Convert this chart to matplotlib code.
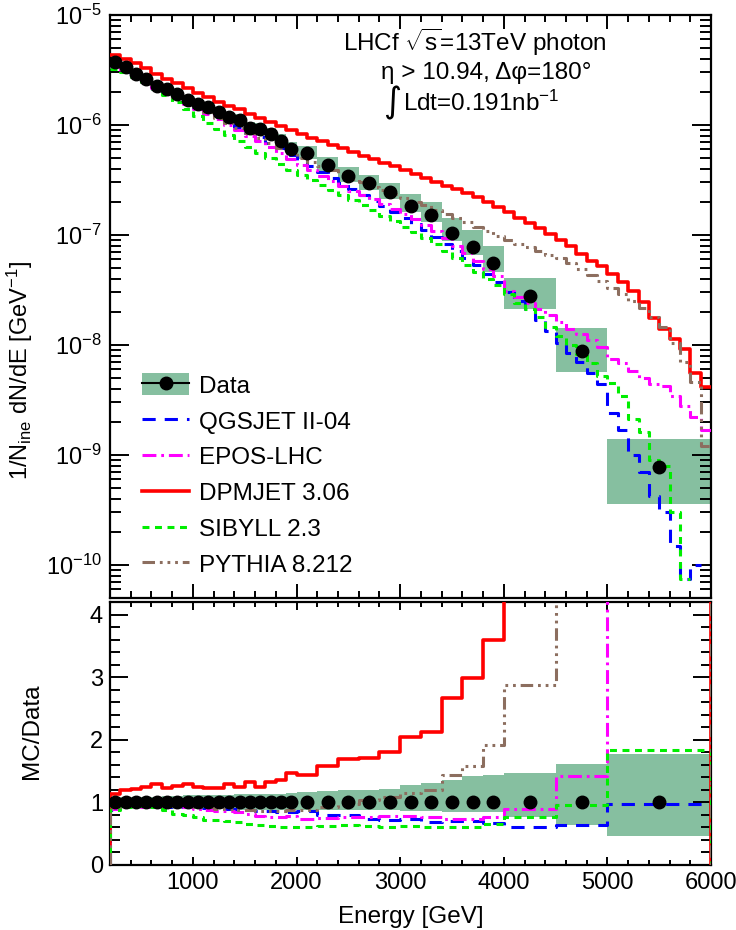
import numpy as np
import matplotlib
matplotlib.use("Agg")
import matplotlib.pyplot as plt
from matplotlib.ticker import MultipleLocator, LogLocator, NullFormatter
from matplotlib.patches import Patch
from matplotlib.lines import Line2D

plt.rcParams['font.family'] = ['Liberation Sans', 'DejaVu Sans']
plt.rcParams['mathtext.fontset'] = 'custom'
plt.rcParams['mathtext.rm'] = 'Liberation Sans'
plt.rcParams['mathtext.it'] = 'Liberation Sans:italic'
plt.rcParams['mathtext.bf'] = 'Liberation Sans:bold'
plt.rcParams['lines.scale_dashes'] = False

# data binning (GeV)
data_edges = [200, 300, 400, 500, 600, 700, 800, 900, 1000, 1100, 1200, 1300, 1400, 1500,
              1600, 1700, 1800, 1900, 2000, 2200, 2400, 2600, 2800, 3000, 3200, 3400,
              3600, 3800, 4000, 4500, 5000, 6000]
data_val = [3.75e-6, 3.37e-6, 2.89e-6, 2.64e-6, 2.25e-6, 2.14e-6, 1.89e-6, 1.68e-6, 1.56e-6,
            1.44e-6, 1.31e-6, 1.18e-6, 1.11e-6, 9.4e-7, 9.2e-7, 8.2e-7, 7.2e-7, 6.06e-7,
            5.52e-7, 4.36e-7, 3.46e-7, 2.94e-7, 2.43e-7, 1.84e-7, 1.51e-7, 1.04e-7, 7.8e-8,
            5.5e-8, 2.77e-8, 8.85e-9, 7.8e-10]
err_up = [0.08, 0.08, 0.08, 0.09, 0.09, 0.10, 0.10, 0.11, 0.11, 0.12, 0.12, 0.12, 0.13, 0.13,
          0.13, 0.14, 0.14, 0.15, 0.17, 0.18, 0.19, 0.20, 0.22, 0.275, 0.31, 0.355, 0.42, 0.43,
          0.47, 0.61, 0.77]
err_dn = [0.08, 0.08, 0.08, 0.09, 0.09, 0.10, 0.10, 0.10, 0.11, 0.11, 0.11, 0.12, 0.12, 0.12,
          0.12, 0.12, 0.12, 0.12, 0.12, 0.12, 0.12, 0.125, 0.125, 0.13, 0.14, 0.15, 0.16, 0.16,
          0.23, 0.36, 0.54]

# MC spectra, 100 GeV bins from 200 to 6000
mc_edges = np.arange(200, 6001, 100)
nan = np.nan
qgsjet = [3.35e-6, 3.05e-6, 2.78e-6, 2.50e-6, 2.22e-6, 2.00e-6, 1.78e-6, 1.58e-6, 1.43e-6, 1.30e-6,
          1.17e-6, 1.05e-6, 9.5e-7, 8.5e-7, 7.7e-7, 6.9e-7, 6.1e-7, 5.3e-7,
          4.8e-7, 4.2e-7, 3.75e-7, 3.3e-7, 2.95e-7, 2.6e-7, 2.3e-7, 2.05e-7, 1.82e-7, 1.62e-7,
          1.42e-7, 1.25e-7, 1.1e-7, 9.6e-8, 8.3e-8, 7.2e-8, 6.2e-8, 5.3e-8, 4.4e-8, 3.7e-8,
          3.0e-8, 2.5e-8, 2.1e-8, 1.7e-8, 1.35e-8, 1.05e-8, 8.5e-9, 7.0e-9, 5.5e-9, 4.4e-9,
          2.4e-9, 1.7e-9, 1.0e-9, 7.0e-10, 4.2e-10, 3.0e-10, 1.5e-10, 7.4e-11, 1.0e-10, nan]
epos = [3.38e-6, 3.10e-6, 2.75e-6, 2.47e-6, 2.18e-6, 1.97e-6, 1.76e-6, 1.56e-6, 1.40e-6, 1.25e-6,
        1.12e-6, 1.00e-6, 9.0e-7, 7.9e-7, 7.1e-7, 6.3e-7, 5.6e-7, 4.9e-7,
        4.3e-7, 3.85e-7, 3.45e-7, 3.1e-7, 2.8e-7, 2.52e-7, 2.3e-7, 2.1e-7, 1.9e-7, 1.72e-7,
        1.55e-7, 1.38e-7, 1.22e-7, 1.08e-7, 9.3e-8, 8.0e-8, 6.8e-8, 5.8e-8, 4.9e-8, 4.2e-8,
        3.1e-8, 2.7e-8, 2.4e-8, 2.1e-8, 1.85e-8, 1.6e-8, 1.4e-8, 1.25e-8, 1.1e-8, 9.5e-9,
        7.5e-9, 6.8e-9, 5.8e-9, 5.0e-9, 4.4e-9, 4.2e-9, 3.4e-9, 2.8e-9, 2.2e-9, 1.7e-9]
dpmjet = [4.28e-6, 4.00e-6, 3.62e-6, 3.28e-6, 2.93e-6, 2.64e-6, 2.39e-6, 2.17e-6, 1.96e-6, 1.78e-6,
          1.62e-6, 1.50e-6, 1.38e-6, 1.25e-6, 1.15e-6, 1.07e-6, 9.7e-7, 8.9e-7,
          8.2e-7, 7.6e-7, 7.1e-7, 6.6e-7, 6.1e-7, 5.65e-7, 5.2e-7, 4.85e-7, 4.5e-7, 4.2e-7,
          3.9e-7, 3.6e-7, 3.3e-7, 3.05e-7, 2.8e-7, 2.6e-7, 2.4e-7, 2.2e-7, 1.98e-7, 1.8e-7,
          1.6e-7, 1.42e-7, 1.28e-7, 1.15e-7, 1.02e-7, 9.05e-8, 7.98e-8, 6.7e-8, 5.8e-8, 5.25e-8,
          4.4e-8, 3.7e-8, 3.1e-8, 2.43e-8, 1.77e-8, 1.39e-8, 1.13e-8, 9.1e-9, 5.6e-9, 4.1e-9]
sibyll = [3.25e-6, 3.05e-6, 2.75e-6, 2.45e-6, 2.12e-6, 1.86e-6, 1.60e-6, 1.38e-6, 1.20e-6, 1.05e-6,
          9.2e-7, 8.1e-7, 7.2e-7, 6.3e-7, 5.6e-7, 5.0e-7, 4.4e-7, 3.9e-7,
          3.5e-7, 3.15e-7, 2.85e-7, 2.55e-7, 2.3e-7, 2.08e-7, 1.87e-7, 1.68e-7, 1.5e-7, 1.34e-7,
          1.19e-7, 1.06e-7, 9.4e-8, 8.3e-8, 7.2e-8, 6.2e-8, 5.3e-8, 4.6e-8, 4.0e-8, 3.5e-8,
          2.9e-8, 2.4e-8, 2.1e-8, 1.8e-8, 1.45e-8, 1.2e-8, 1.0e-8, 8.3e-9, 6.8e-9, 5.2e-9,
          4.5e-9, 3.4e-9, 2.1e-9, 1.6e-9, 9e-10, 8e-10, 3e-10, 7.4e-11, nan, nan]
pythia = [3.45e-6, 3.20e-6, 2.85e-6, 2.55e-6, 2.25e-6, 2.02e-6, 1.80e-6, 1.60e-6, 1.44e-6, 1.30e-6,
          1.16e-6, 1.04e-6, 9.4e-7, 8.4e-7, 7.6e-7, 6.8e-7, 6.1e-7, 5.5e-7,
          5.0e-7, 4.6e-7, 4.2e-7, 3.85e-7, 3.55e-7, 3.25e-7, 3.0e-7, 2.75e-7, 2.55e-7, 2.35e-7,
          2.18e-7, 2.0e-7, 1.85e-7, 1.7e-7, 1.56e-7, 1.42e-7, 1.3e-7, 1.18e-7, 1.08e-7, 9.8e-8,
          9.0e-8, 8.3e-8, 7.7e-8, 7.1e-8, 6.6e-8, 6.1e-8, 5.5e-8, 4.9e-8, 4.3e-8, 3.8e-8,
          3.3e-8, 2.9e-8, 2.5e-8, 2.15e-8, 1.8e-8, 1.45e-8, 1.05e-8, 7.0e-9, 4.6e-9, 1.2e-9]

# MC / data in data bins
r_qgsjet = [0.88, 0.95, 0.96, 0.95, 0.94, 0.93, 0.93, 0.92, 0.92, 0.91, 0.90, 0.90, 0.89, 0.88,
            0.87, 0.87, 0.85, 0.84, 0.86, 0.80, 0.80, 0.74, 0.72, 0.73, 0.69, 0.71, 0.70, 0.67,
            0.60, 0.64, 0.98]
r_epos = [0.90, 0.93, 0.94, 0.93, 0.93, 0.93, 0.93, 0.92, 0.90, 0.88, 0.87, 0.86, 0.84, 0.82,
          0.79, 0.77, 0.77, 0.79, 0.73, 0.75, 0.77, 0.76, 0.78, 0.78, 0.76, 0.74, 0.74, 0.76,
          0.90, 1.42, 5.2]
r_dpmjet = [1.14, 1.20, 1.22, 1.25, 1.29, 1.23, 1.26, 1.30, 1.25, 1.23, 1.23, 1.29, 1.25, 1.32,
            1.25, 1.33, 1.35, 1.47, 1.43, 1.58, 1.69, 1.71, 1.80, 2.05, 2.12, 2.66, 2.98, 3.59,
            5.0, 8.5, 24.0]
r_sibyll = [0.88, 0.93, 0.94, 0.94, 0.93, 0.88, 0.82, 0.80, 0.76, 0.72, 0.72, 0.70, 0.68, 0.66,
            0.64, 0.63, 0.61, 0.61, 0.61, 0.62, 0.64, 0.62, 0.61, 0.62, 0.60, 0.60, 0.61, 0.66,
            0.77, 0.96, 1.83]
r_pythia = [0.92, 0.97, 0.98, 0.97, 0.96, 0.95, 0.94, 0.94, 0.93, 0.92, 0.90, 0.89, 0.88, 0.88,
            0.86, 0.86, 0.86, 0.88, 0.88, 0.92, 0.98, 1.03, 1.08, 1.15, 1.19, 1.43, 1.58, 1.91,
            2.87, 5.6, 19.0]

labels = ['QGSJET II-04', 'EPOS-LHC', 'DPMJET 3.06', 'SIBYLL 2.3', 'PYTHIA 8.212']
band_color = '#86bfa0'
styles = [
    dict(color='#0000ff', lw=2.2, dashes=(9.5, 6.5)),
    dict(color='#ff00ff', lw=2.2, dashes=(10, 3.5, 2, 3.5)),
    dict(color='#ff0000', lw=2.6, linestyle='-'),
    dict(color='#00ee00', lw=2.2, dashes=(5, 4)),
    dict(color='#8c6e5f', lw=2.2, dashes=(9, 3.5, 2, 3.5, 2, 3.5, 2, 3.5)),
]


def steps(edges, vals, base=None):
    edges = np.asarray(edges, float)
    vals = np.asarray(vals, float)
    x = np.repeat(edges, 2)[1:-1]
    y = np.repeat(vals, 2)
    if base is not None:
        x = np.concatenate([[edges[0]], x, [edges[-1]]])
        y = np.concatenate([[base], y, [base]])
    return x, y


fig = plt.figure(figsize=(7.36, 9.30), dpi=100)
ax1 = fig.add_axes([0.1495, 0.357, 0.8166, 0.627])
ax2 = fig.add_axes([0.1495, 0.0699, 0.8166, 0.2828])

edges = np.array(data_edges, float)
centers = 0.5 * (edges[1:] + edges[:-1])
widths = np.diff(edges)
dval = np.array(data_val)
up = np.array(err_up)
dn = np.array(err_dn)

# top panel
ax1.bar(centers, dval * (up + dn), bottom=dval * (1 - dn), width=widths,
        color=band_color, lw=0, zorder=1)
for vals, st in zip([qgsjet, epos, dpmjet, sibyll, pythia], styles):
    x, y = steps(mc_edges, vals)
    ax1.plot(x, y, zorder=3, **st)
ax1.plot(centers, dval, 'o', color='k', ms=9, zorder=5)
ax1.set_yscale('log')
ax1.set_xlim(200, 6000)
ax1.set_ylim(5e-11, 1e-5)
ax1.tick_params(labelbottom=False)
ax1.set_ylabel(r'1/N$_{\rm ine}$ dN/dE [GeV$^{-1}$]', fontsize=17)
ax1.yaxis.set_label_coords(-0.125, 0.39)

ax1.text(0.607, 0.953, r'LHCf $\sqrt{\mathrm{s}}$=13TeV photon', transform=ax1.transAxes,
         ha='center', va='center', fontsize=17.5)
ax1.text(0.626, 0.901, 'η > 10.94, Δφ=180°', transform=ax1.transAxes,
         ha='center', va='center', fontsize=17.5)
ax1.text(0.470, 0.849, '∫', transform=ax1.transAxes, family='DejaVu Sans',
         ha='center', va='center', fontsize=25)
ax1.text(0.487, 0.849, r'Ldt=0.191nb$^{-1}$', transform=ax1.transAxes,
         ha='left', va='center', fontsize=17.5)

handles = [(Patch(facecolor=band_color, edgecolor='none'),
            Line2D([], [], color='k', lw=1.5, marker='o', ms=9))]
for st in styles:
    handles.append(Line2D([], [], **st))
ax1.legend(handles, ['Data'] + labels, loc='upper left', bbox_to_anchor=(0.053, 0.385),
           frameon=False, fontsize=17.5, handlelength=1.95, handleheight=1.0,
           handletextpad=0.4, labelspacing=0.48, borderpad=0, borderaxespad=0)

# ratio panel
ax2.bar(centers, up + dn, bottom=1 - dn, width=widths, color=band_color, lw=0, zorder=1)
for vals, st in zip([r_qgsjet, r_epos, r_dpmjet, r_sibyll, r_pythia], styles):
    x, y = steps(edges, vals, base=0)
    ax2.plot(x, y, zorder=3, **st)
ax2.plot(centers, np.ones_like(centers), 'o', color='k', ms=9, zorder=5)
ax2.set_xlim(200, 6000)
ax2.set_ylim(0, 4.2)
ax2.set_ylabel('MC/Data', fontsize=17.5)
ax2.yaxis.set_label_coords(-0.112, 0.51)
ax2.set_xlabel('Energy [GeV]', fontsize=17.5)
ax2.xaxis.set_label_coords(0.5, -0.155)
ax2.yaxis.set_major_locator(MultipleLocator(1))
ax2.yaxis.set_minor_locator(MultipleLocator(0.2))

for ax in (ax1, ax2):
    ax.xaxis.set_major_locator(MultipleLocator(1000))
    ax.xaxis.set_minor_locator(MultipleLocator(200))
    for sp in ax.spines.values():
        sp.set_linewidth(1.6)
    ax.tick_params(which='both', direction='in', top=True, right=True, width=1.4,
                   labelsize=17)

ax1.yaxis.set_minor_locator(LogLocator(base=10, subs=np.arange(2, 10)))
ax1.yaxis.set_minor_formatter(NullFormatter())
ax1.tick_params(axis='x', which='major', length=10)
ax1.tick_params(axis='x', which='minor', length=5)
ax1.tick_params(axis='y', which='major', length=14, pad=6)
ax1.tick_params(axis='y', which='minor', length=8)
ax2.tick_params(axis='x', which='major', length=6, pad=5)
ax2.tick_params(axis='x', which='minor', length=3.5)
ax2.tick_params(axis='y', which='major', length=13, pad=5)
ax2.tick_params(axis='y', which='minor', length=7)

fig.savefig('out.png', dpi=100, facecolor='white')
